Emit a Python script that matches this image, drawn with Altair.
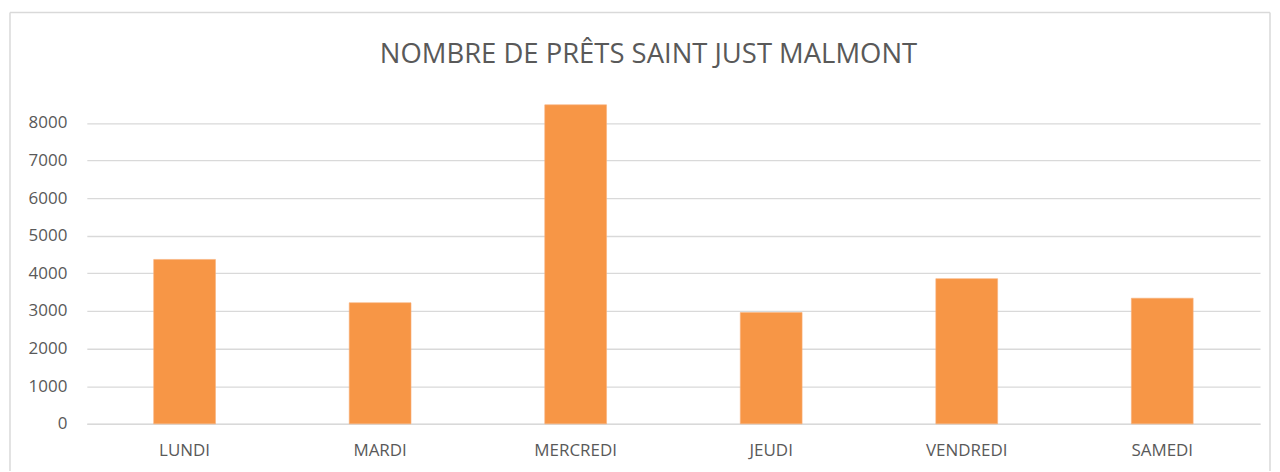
import altair as alt
import pandas as pd

jours = ["LUNDI", "MARDI", "MERCREDI", "JEUDI", "VENDREDI", "SAMEDI"]
prets = [4370, 3220, 8480, 2960, 3860, 3340]
y_ticks = [0, 1000, 2000, 3000, 4000, 5000, 6000, 7000, 8000]
titre = ["NOMBRE DE PRÊTS SAINT JUST MALMONT"]

df = pd.DataFrame({"jour": jours, "prets": prets})
df_titre = pd.DataFrame({"titre": titre})

W = 1176
H = 324.3
FONT = "Open Sans"
GREY = "#595959"
LINE = "#D9D9D9"

bars = alt.Chart(df).mark_bar(color="#F79646", stroke="#F9B07A", strokeWidth=0.6).encode(
    x=alt.X(
        "jour:N",
        sort=jours,
        scale=alt.Scale(paddingInner=0.684, paddingOuter=0.342),
        axis=alt.Axis(
            title=None,
            ticks=False,
            labelAngle=0,
            labelPadding=19,
            labelFont=FONT,
            labelFontSize=17,
            labelColor=GREY,
            domainColor=LINE,
            domainWidth=1.3,
            grid=False,
        ),
    ),
    y=alt.Y(
        "prets:Q",
        scale=alt.Scale(domain=[0, 8600], nice=False),
        axis=alt.Axis(
            title=None,
            values=y_ticks,
            format="d",
            ticks=False,
            domain=False,
            labelPadding=20,
            labelFont=FONT,
            labelFontSize=17,
            labelColor=GREY,
            gridColor=LINE,
            gridWidth=1.3,
        ),
    ),
)

title_mark = alt.Chart(df_titre).mark_text(
    font=FONT, fontSize=27.5, color=GREY, align="center", baseline="alphabetic"
).encode(
    text="titre:N",
    x=alt.value(W / 2 - 25),
    y=alt.value(-37.3),
)

frame_top = alt.Chart(df_titre).mark_rule(color=LINE, strokeWidth=1.5).encode(
    x=alt.value(-77), x2=alt.value(W + 10), y=alt.value(-88)
)
frame_left = alt.Chart(df_titre).mark_rule(color=LINE, strokeWidth=1.5).encode(
    x=alt.value(-77), y=alt.value(-88), y2=alt.value(H + 60)
)
frame_right = alt.Chart(df_titre).mark_rule(color=LINE, strokeWidth=1.5).encode(
    x=alt.value(W + 10), y=alt.value(-88), y2=alt.value(H + 60)
)

chart = (
    alt.layer(frame_top, frame_left, frame_right, bars, title_mark)
    .properties(
        width=W,
        height=H,
        background="white",
        autosize=alt.AutoSizeParams(type="none"),
        padding={"left": 79, "top": 92, "right": 12, "bottom": 47},
    )
    .configure_view(strokeWidth=0, stroke="transparent")
)

chart.save("out.html", embed_options={"renderer": "svg", "actions": False})
